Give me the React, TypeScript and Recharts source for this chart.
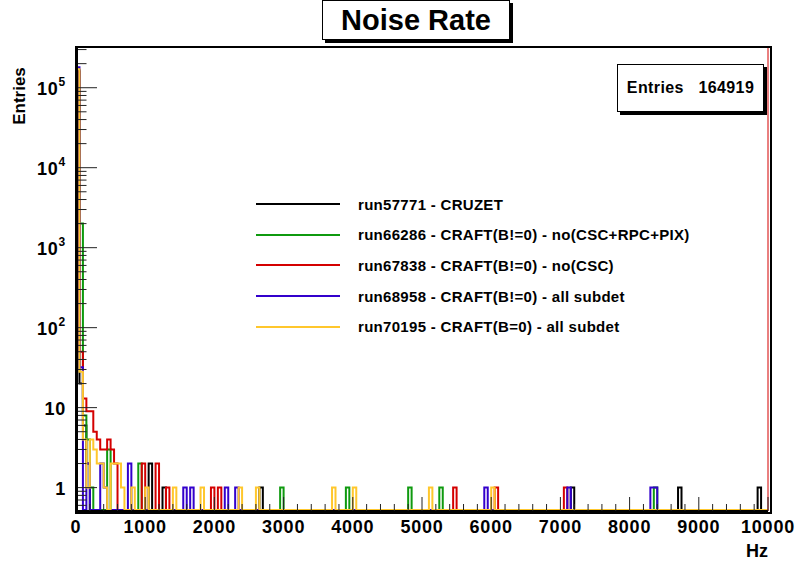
import { LineChart, Line, XAxis, YAxis, Legend, ReferenceLine } from 'recharts'

// histogram binning: 200 bins of 50 Hz between 0 and 10 kHz
const BIN_WIDTH = 50
const N_BINS = 200

// non-empty bins of each run, as [bin index, entries]
const run57771: [number, number][] = [
    [0, 164870], [1, 20], [2, 6], [3, 2], [21, 2], [25, 1], [53, 1], [143, 1], [174, 1], [197, 1],
]
const run66286: [number, number][] = [
    [0, 160000], [1, 2000], [2, 8], [3, 4], [4, 1], [9, 3], [18, 2], [59, 1], [78, 1], [96, 1], [105, 1], [167, 1],
]
const run67838: [number, number][] = [
    [0, 160000], [1, 50], [2, 13], [3, 9], [4, 9], [5, 5], [6, 4], [7, 3], [8, 3], [9, 4], [10, 3], [11, 2],
    [19, 2], [23, 2], [26, 1], [39, 1], [41, 1], [109, 1], [121, 1], [141, 1],
]
const run68958: [number, number][] = [
    [0, 180000], [1, 32], [3, 2], [7, 2], [8, 1], [15, 2], [31, 1], [33, 1], [43, 1], [46, 1],
    [118, 1], [142, 1], [166, 1], [167, 1],
]
const run70195: [number, number][] = [
    [0, 170000], [1, 28], [2, 4], [3, 1], [4, 4], [5, 3], [6, 2], [7, 2], [8, 1], [10, 2], [11, 2], [12, 2],
    [13, 1], [16, 1], [20, 1], [28, 1], [36, 1], [47, 1], [52, 1], [74, 1], [80, 1], [102, 1], [120, 1],
]

const decades = [1, 10, 100, 1000, 10000, 100000]

const series = [
    { key: 'r57771', name: 'run57771 - CRUZET', color: '#000000', bins: run57771 },
    { key: 'r66286', name: 'run66286 - CRAFT(B!=0) - no(CSC+RPC+PIX)', color: '#0f9a0f', bins: run66286 },
    { key: 'r67838', name: 'run67838 - CRAFT(B!=0) - no(CSC)', color: '#d40000', bins: run67838 },
    { key: 'r68958', name: 'run68958 - CRAFT(B!=0) - all subdet', color: '#3300cc', bins: run68958 },
    { key: 'r70195', name: 'run70195 - CRAFT(B=0) - all subdet', color: '#ffc72c', bins: run70195 },
]

const Y_MIN = 0.51
const Y_MAX = 323000
// empty bins sit on the bottom of the frame, as on a log pad
const EMPTY = 0.525

const rows: Record<string, number>[] = Array.from({ length: N_BINS + 1 }, (_, i) => {
    const row: Record<string, number> = { hz: i * BIN_WIDTH }
    series.forEach((s) => { row[s.key] = EMPTY })
    return row
})
series.forEach((s) => {
    s.bins.forEach(([b, v]) => { rows[b][s.key] = v })
    // closing edge of the last bin
    rows[N_BINS][s.key] = rows[N_BINS - 1][s.key]
})

// ticks every 200 Hz, labelled every 1000 Hz
const xTicks: number[] = []
for (let v = 0; v <= 10000; v += 200) xTicks.push(v)

// 2..9 minor ticks within each decade
const yTicks: number[] = [0.6, 0.7, 0.8, 0.9]
decades.forEach((d) => {
    for (let m = 1; m <= 9; m++) if (d * m <= Y_MAX) yTicks.push(d * m)
})

const FONT = '"Liberation Sans", Arial, Helvetica, sans-serif'

const XTick = (props: any) => {
    const { x, y, payload } = props
    const major = payload.value % 1000 === 0
    return (
        <g>
            <line x1={x} y1={y} x2={x} y2={y - (major ? 14 : 7)} stroke="#222" strokeWidth={1} />
            {major && (
                <text x={x} y={y + 22} textAnchor="middle" fontFamily={FONT} fontWeight="bold"
                    fontSize={18} letterSpacing={0.8} fill="#000">
                    {payload.value}
                </text>
            )}
        </g>
    )
}

const YTick = (props: any) => {
    const { x, y, payload } = props
    const v = payload.value
    const lg = Math.log10(v)
    const exp = Math.round(lg)
    const major = Math.abs(lg - exp) < 1e-9
    return (
        <g>
            <line x1={x} y1={y} x2={x + (major ? 21 : 10.5)} y2={y} stroke="#222" strokeWidth={1} />
            {major && (
                <text x={x - 10} y={y + 7} textAnchor="end" fontFamily={FONT} fontWeight="bold"
                    fontSize={18} letterSpacing={0.8} fill="#000">
                    {exp === 0 ? '1' : '10'}
                    {exp >= 2 && <tspan dy={-9} fontSize={12}>{exp}</tspan>}
                </text>
            )}
        </g>
    )
}

const LegendBox = (props: any) => (
    <div>
        {(props.payload || []).map((p: any) => (
            <div key={p.value} style={{ display: 'flex', alignItems: 'center', height: 30.6 }}>
                <span style={{ display: 'inline-block', width: 84, height: 2, background: p.color, marginRight: 18 }} />
                <span style={{ fontFamily: FONT, fontWeight: 'bold', fontSize: 15, letterSpacing: 0.3, color: '#000' }}>
                    {p.value}
                </span>
            </div>
        ))}
    </div>
)

const App = () => {
    return (
        <div style={{ position: 'absolute', left: 0, top: 0, width: 799, height: 564, background: '#fff' }}>
            <LineChart width={799} height={564} data={rows}
                margin={{ top: 47, right: 31, left: 16, bottom: 23 }}>
                <XAxis dataKey="hz" type="number" domain={[0, 10000]} ticks={xTicks} interval={0}
                    height={30} tickSize={0} tickMargin={0} tick={<XTick />}
                    axisLine={{ stroke: '#000', strokeWidth: 2 }} />
                <YAxis type="number" scale="log" domain={[Y_MIN, Y_MAX]} allowDataOverflow ticks={yTicks}
                    interval={0} width={60} tickSize={0} tickMargin={0} tick={<YTick />}
                    axisLine={{ stroke: '#000', strokeWidth: 2 }} />
                <Legend layout="vertical" verticalAlign="middle" align="center" content={<LegendBox />}
                    wrapperStyle={{ left: 256, top: 189, width: 460 }} />
                {series.map((s) => (
                    <Line key={s.key} dataKey={s.key} name={s.name} type="stepAfter" stroke={s.color}
                        strokeWidth={2} dot={false} isAnimationActive={false} />
                ))}
                <ReferenceLine x={10000} stroke="#d40000" strokeWidth={1} />
            </LineChart>

            {/* pad frame */}
            <div style={{ position: 'absolute', left: 75, top: 46, width: 692, height: 464,
                border: '2px solid #000', borderLeftWidth: 3, pointerEvents: 'none' }} />

            {/* title box */}
            <div style={{ position: 'absolute', left: 322, top: 0, width: 186, height: 38, background: '#fff',
                border: '1px solid #000', boxShadow: '3px 3px 0 #000', display: 'flex', alignItems: 'center',
                justifyContent: 'center', fontFamily: FONT, fontWeight: 'bold', fontSize: 29 }}>
                Noise Rate
            </div>

            {/* statistics box */}
            <div style={{ position: 'absolute', left: 617, top: 64, width: 145, height: 46, background: '#fff',
                border: '1px solid #000', boxShadow: '3px 3px 0 #000', display: 'flex', alignItems: 'center',
                justifyContent: 'center', fontFamily: FONT, fontWeight: 'bold', fontSize: 16, letterSpacing: 0.4,
                whiteSpace: 'pre' }}>
                {'Entries   164919'}
            </div>

            {/* axis titles */}
            <div style={{ position: 'absolute', left: 20, top: 96, transform: 'translate(-50%, -50%) rotate(-90deg)',
                fontFamily: FONT, fontWeight: 'bold', fontSize: 17 }}>
                Entries
            </div>
            <div style={{ position: 'absolute', right: 31, top: 541, fontFamily: FONT, fontWeight: 'bold', fontSize: 18 }}>
                Hz
            </div>
        </div>
    )
}

export default App
